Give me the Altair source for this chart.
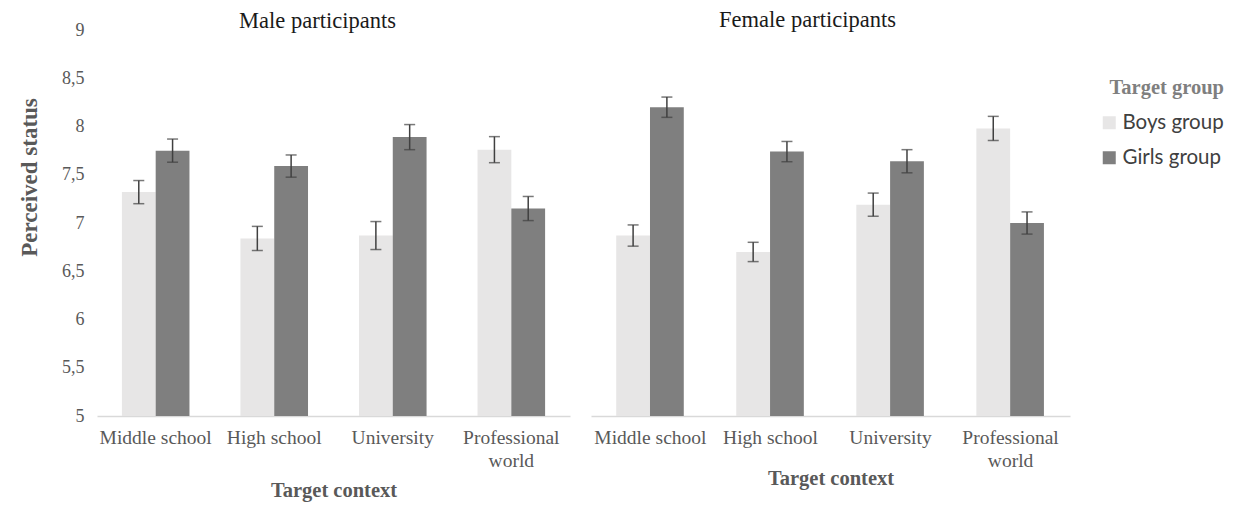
import altair as alt
import pandas as pd

contexts = ["Middle school", "High school", "University", "Professional world"]
groups = ["Boys group", "Girls group"]

male_boys = [7.32, 6.84, 6.87, 7.76]
male_girls = [7.75, 7.59, 7.89, 7.15]
male_boys_err = [0.12, 0.125, 0.145, 0.135]
male_girls_err = [0.12, 0.115, 0.13, 0.125]

female_boys = [6.87, 6.70, 7.19, 7.98]
female_girls = [8.20, 7.74, 7.64, 7.00]
female_boys_err = [0.11, 0.10, 0.12, 0.125]
female_girls_err = [0.105, 0.105, 0.12, 0.115]

y_ticks = [5, 5.5, 6, 6.5, 7, 7.5, 8, 8.5, 9]
y_min = 5

SERIF = "Liberation Serif"
GREY = "#595959"


def make_df(boys, girls, boys_err, girls_err):
    rows = []
    for i, c in enumerate(contexts):
        for g, v, e in ((groups[0], boys[i], boys_err[i]), (groups[1], girls[i], girls_err[i])):
            rows.append({"context": c, "group": g, "mean": v, "lo": v - e, "hi": v + e})
    return pd.DataFrame(rows)


color_scale = alt.Scale(domain=groups, range=["#e7e6e6", "#7f7f7f"])
label_expr = "datum.label == 'Professional world' ? ['Professional', 'world'] : datum.label"


def panel(df, title, show_y, title_pad, title_offset, width, title_dx):
    x = alt.X(
        "context:N",
        sort=contexts,
        scale=alt.Scale(paddingInner=0.43, paddingOuter=0.21),
        axis=alt.Axis(
            title="Target context",
            titleFont=SERIF,
            titleFontSize=20.5,
            titleFontWeight="bold",
            titleColor=GREY,
            titlePadding=title_pad,
            labelFont=SERIF,
            labelFontSize=19.5,
            labelColor=GREY,
            labelAngle=0,
            labelPadding=12,
            labelExpr=label_expr,
            ticks=False,
            domainColor="#d9d9d9",
            domainWidth=1.5,
            labelLineHeight=23,
        ),
    )
    if show_y:
        yaxis = alt.Axis(
            title="Perceived status",
            titleFont=SERIF,
            titleFontSize=23,
            titleFontWeight="bold",
            titleColor=GREY,
            titlePadding=20,
            titleY=147,
            labelFont=SERIF,
            labelFontSize=18,
            labelColor=GREY,
            labelPadding=13,
            values=y_ticks,
            format=".1~f",
            labelExpr="replace(datum.label, '.', ',')",
            ticks=False,
            domain=False,
            grid=False,
        )
    else:
        yaxis = None
    yscale = alt.Scale(domain=[5, 9], nice=False, zero=False)
    xo = alt.XOffset("group:N", sort=groups)
    base = alt.Chart(df)
    bars = base.mark_bar().encode(
        x=x,
        xOffset=xo,
        y=alt.Y("mean:Q", scale=yscale, axis=yaxis),
        y2=alt.datum(y_min),
        color=alt.Color(
            "group:N",
            scale=color_scale,
            legend=alt.Legend(title="Target group"),
        ),
    )
    rules = base.mark_rule(color="#404040", strokeWidth=1.5).encode(
        x=x, xOffset=xo, y=alt.Y("lo:Q", scale=yscale), y2="hi:Q"
    )
    cap_lo = base.mark_tick(color="#404040", orient="horizontal", size=11, thickness=1.5).encode(
        x=x, xOffset=xo, y=alt.Y("lo:Q", scale=yscale)
    )
    cap_hi = base.mark_tick(color="#404040", orient="horizontal", size=11, thickness=1.5).encode(
        x=x, xOffset=xo, y=alt.Y("hi:Q", scale=yscale)
    )
    return alt.layer(bars, rules, cap_lo, cap_hi).properties(
        width=width,
        height=386,
        title=alt.TitleParams(
            title, font=SERIF, fontSize=22.5, fontWeight="normal", color="#1a1a1a",
            offset=title_offset, dx=title_dx,
        ),
    )


left = panel(make_df(male_boys, male_girls, male_boys_err, male_girls_err),
             "Male participants", True, 11, -11, 473, -16)
right = panel(make_df(female_boys, female_girls, female_boys_err, female_girls_err),
              "Female participants", False, -1, -1, 479, -23)

chart = (
    alt.hconcat(left, right, spacing=21)
    .properties(padding={"left": 10, "top": 0, "right": 0, "bottom": 5})
    .configure_view(strokeWidth=0)
    .configure_legend(
        orient="none",
        legendX=1002,
        legendY=48,
        titleFont=SERIF,
        titleFontSize=20.5,
        titleFontWeight="bold",
        titleColor="#7f7f7f",
        titleAnchor="end",
        titlePadding=14,
        labelFont="Lato",
        labelFontSize=20.5,
        labelColor="#404040",
        symbolType="square",
        symbolSize=169,
        symbolStrokeWidth=0,
        rowPadding=14,
        labelOffset=3,
    )
)

chart.save("out.html", embed_options={"renderer": "svg", "actions": False})
